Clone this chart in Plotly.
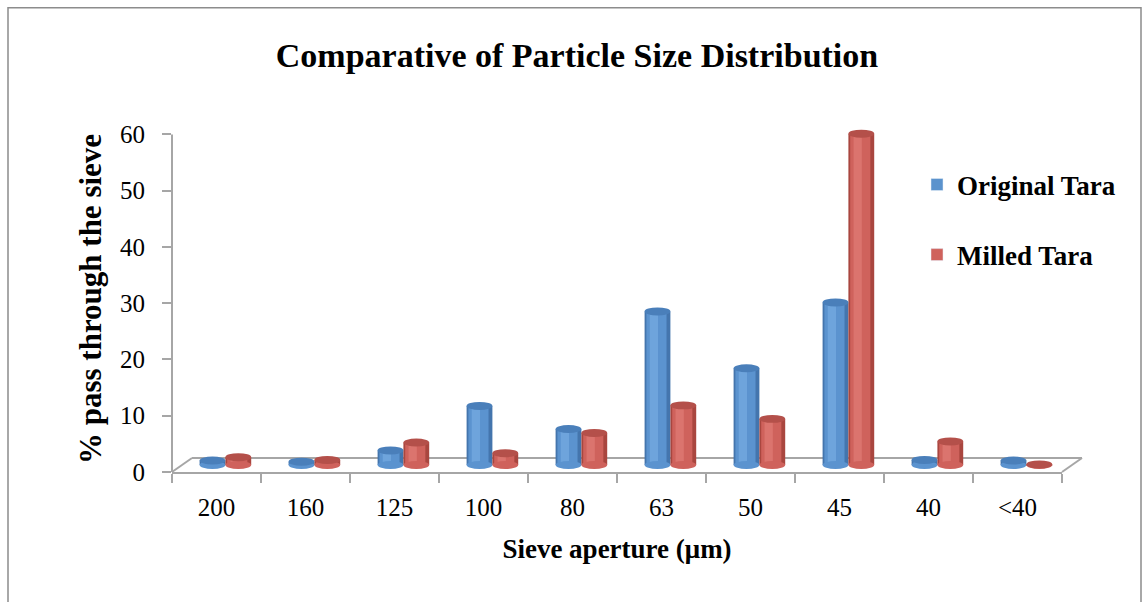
import plotly.graph_objects as go

categories = ["200", "160", "125", "100", "80", "63", "50", "45", "40", "<40"]
original_tara = [0.8, 0.6, 2.6, 10.5, 6.4, 27.3, 17.2, 28.9, 0.9, 0.8]
milled_tara = [1.4, 0.9, 4.0, 2.1, 5.7, 10.6, 8.2, 58.9, 4.2, 0.1]
y_ticks = [0, 10, 20, 30, 40, 50, 60]

FONT = "Liberation Serif"
GRAY = "#a6a6a6"

# layout geometry (pixels)
L, R, T, B = 172, 80, 125.5, 130
PW = 1142 - L - R
PH = 602 - T - B
YMAX = 61.5
px_per_unit = PH / YMAX

series = [
    dict(name="Original Tara", values=original_tara, offset=-0.19,
         dark="#4475ad", mid="#5b93cf", light="#6ea4dc", cap="#4a7fba", legend="#5b93cd"),
    dict(name="Milled Tara", values=milled_tara, offset=0.10,
         dark="#a9463f", mid="#cf625c", light="#db746e", cap="#b4504a", legend="#cf625c"),
]
W = 0.29
x_idx = list(range(len(categories)))

fig = go.Figure()
shapes = []
cap_h = 8 / px_per_unit

for s in series:
    fig.add_trace(go.Bar(x=[None], y=[None], name="<b>" + s["name"] + "</b>",
                         marker_color=s["legend"], showlegend=True,
                         legendgroup=s["name"], xaxis="x", yaxis="y"))
    layers = [(0.0, 1.0, s["dark"]), (0.07, 0.78, s["mid"]), (0.20, 0.32, s["light"])]
    for (lo, frac, col) in layers:
        fig.add_trace(go.Bar(
            x=x_idx, y=s["values"], width=W * frac, offset=s["offset"] + W * lo,
            marker=dict(color=col, line=dict(width=0)),
            showlegend=False, legendgroup=s["name"], hoverinfo="skip",
            xaxis="x", yaxis="y2"))
    for i, v in enumerate(s["values"]):
        x0 = i + s["offset"]
        shapes.append(dict(type="circle", xref="x", yref="y2", layer="above",
                           x0=x0, x1=x0 + W, y0=-cap_h / 2, y1=cap_h / 2,
                           fillcolor=s["mid"], line=dict(width=0)))
        shapes.append(dict(type="circle", xref="x", yref="y2", layer="above",
                           x0=x0, x1=x0 + W, y0=v - cap_h / 2, y1=v + cap_h / 2,
                           fillcolor=s["cap"], line=dict(width=0)))

# floor (3D base) lines
dx = 20 / PW
dy = 14 / PH
for (x0, y0, x1, y1) in [(dx, dy, 1 + dx, dy), (0, 0, dx, dy), (1, 0, 1 + dx, dy)]:
    shapes.append(dict(type="line", xref="paper", yref="paper", layer="below",
                       x0=x0, y0=y0, x1=x1, y1=y1, line=dict(color=GRAY, width=2)))

# value axis line (0 to 60)
shapes.append(dict(type="line", xref="paper", yref="y", layer="below",
                   x0=0, x1=0, y0=0, y1=60, line=dict(color=GRAY, width=2)))

# outer border
shapes.append(dict(type="rect", xref="paper", yref="paper", layer="below",
                   x0=-(L - 8) / PW, y0=-(B + 10) / PH, x1=1.0 + (R - 1) / PW,
                   y1=1 + (T - 7) / PH,
                   line=dict(color="#8c8c8c", width=1.5), fillcolor="rgba(0,0,0,0)"))

shift = 7 / px_per_unit
fig.update_layout(
    width=1142, height=602,
    margin=dict(l=L, r=R, t=T, b=B, autoexpand=False),
    paper_bgcolor="white", plot_bgcolor="white",
    barmode="overlay",
    title=dict(text="<b>Comparative of Particle Size Distribution</b>",
               x=577 / 1142, xanchor="center", y=1 - 55 / 602, yanchor="middle",
               font=dict(family=FONT, size=34, color="black")),
    xaxis=dict(range=[-0.5, 9.5], tickvals=x_idx, ticktext=categories, ticks="",
               showline=True, linecolor=GRAY, linewidth=2, showgrid=False, zeroline=False,
               tickfont=dict(family=FONT, size=25, color="black"),
               ticklabelstandoff=12,
               minor=dict(ticks="outside", tick0=-0.5, dtick=1, ticklen=9,
                          tickcolor=GRAY, tickwidth=2, showgrid=False),
               title=dict(text="<b>Sieve aperture (μm)</b>", standoff=19,
                          font=dict(family=FONT, size=27, color="black"))),
    yaxis=dict(range=[0, YMAX], tickvals=y_ticks, ticks="outside", ticklen=9,
               tickcolor=GRAY, tickwidth=2, showline=False,
               showgrid=False, zeroline=False, ticklabelstandoff=12,
               tickfont=dict(family=FONT, size=25, color="black"),
               title=dict(text="<b>% pass through the sieve</b>", standoff=9,
                          font=dict(family=FONT, size=31, color="black"))),
    yaxis2=dict(range=[-shift, YMAX - shift], overlaying="y", visible=False),
    legend=dict(x=(917 - L) / PW, xanchor="left", y=(472 - 160) / PH, yanchor="top",
                xref="paper", yref="paper",
                font=dict(family=FONT, size=27, color="black"),
                traceorder="grouped", tracegroupgap=32, bgcolor="rgba(0,0,0,0)"),
    shapes=shapes,
    showlegend=True,
)

fig.write_html("out.html")
